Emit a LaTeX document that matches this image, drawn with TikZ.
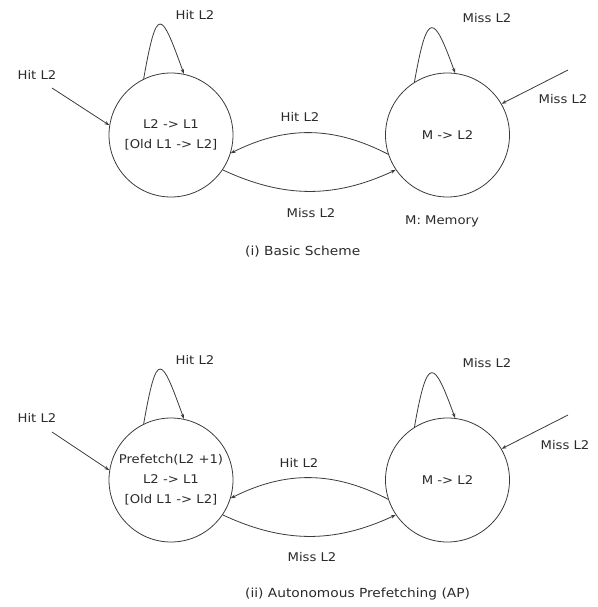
\documentclass[tikz,border=0pt]{standalone}
\usepackage{fontspec}
\setmainfont[FakeStretch=1.1]{DejaVu Sans}
\usepackage{tikz}
\usetikzlibrary{arrows.meta,positioning}
\definecolor{LineInk}{HTML}{3A3A3A}
\definecolor{TextInk}{HTML}{2A2A2A}

\begin{document}
\begin{tikzpicture}[
  x=1pt, y=1pt,
  state/.style={circle, draw=LineInk, line width=0.8pt, minimum size=124pt,
                inner sep=0pt, align=center, font=\fontsize{12}{20}\selectfont,
                text=TextInk},
  lbl/.style={font=\fontsize{12}{14}\selectfont, text=TextInk, inner sep=1pt},
  caption/.style={font=\fontsize{12.5}{14}\selectfont, text=TextInk,
                  anchor=west, inner sep=0pt},
  edge/.style={draw=LineInk, line width=0.8pt, -{Stealth[length=5pt,width=3.5pt]}},
]
\useasboundingbox (0,0) rectangle (597,-607);

% --- (i) Basic Scheme ---

% States
\node[state] (basicL1) at (171,-135) {L2 -> L1\\{[}Old L1 -> L2{]}};
\node[state] (basicMem) at (447.5,-135) {M -> L2};

% Incoming transitions
\coordinate (basicHitIn) at (52,-88);
\coordinate (basicMissIn) at (568,-70);
\draw[edge] (basicHitIn) -- (basicL1.171);
\draw[edge] (basicMissIn) -- (basicMem.30);

% Self loops
\draw[edge] (basicL1.116) .. controls +(80:78) and +(110:66) .. (basicL1.78);
\draw[edge] (basicMem.122) .. controls +(80:75) and +(110:62) .. (basicMem.83);

% Between states
\draw[edge] (basicMem.198) to[bend right=27] (basicL1.343);
\draw[edge] (basicL1.326) to[bend right=25] (basicMem.214);

% Labels
\node[lbl] (basicLoopHit) at (195,-15) {Hit L2};
\node[lbl] (basicInHit) at (37,-75) {Hit L2};
\node[lbl] (basicHit) at (300,-117) {Hit L2};
\node[lbl] (basicMiss) at (311,-213) {Miss L2};
\node[lbl] (basicLoopMiss) at (487,-18) {Miss L2};
\node[lbl] (basicInMiss) at (563,-99) {Miss L2};
\node[lbl] (basicMemNote) at (442,-221) {M: Memory};
\node[caption] (basicCap) at (245,-252) {(i) Basic Scheme};

% --- (ii) Autonomous Prefetching ---

% States
\node[state] (apL1) at (171,-480) {Prefetch(L2 +1)\\L2 -> L1\\{[}Old L1 -> L2{]}};
\node[state] (apMem) at (447.5,-480) {M -> L2};

% Incoming transitions
\coordinate (apHitIn) at (52,-432);
\coordinate (apMissIn) at (568,-415);
\draw[edge] (apHitIn) -- (apL1.171);
\draw[edge] (apMissIn) -- (apMem.30);

% Self loops
\draw[edge] (apL1.116) .. controls +(80:78) and +(110:66) .. (apL1.78);
\draw[edge] (apMem.122) .. controls +(80:75) and +(110:62) .. (apMem.83);

% Between states
\draw[edge] (apMem.198) to[bend right=27] (apL1.343);
\draw[edge] (apL1.326) to[bend right=25] (apMem.214);

% Labels
\node[lbl] (apLoopHit) at (195,-360) {Hit L2};
\node[lbl] (apInHit) at (37,-418) {Hit L2};
\node[lbl] (apHit) at (299,-463) {Hit L2};
\node[lbl] (apMiss) at (312,-557) {Miss L2};
\node[lbl] (apLoopMiss) at (487,-363) {Miss L2};
\node[lbl] (apInMiss) at (565,-445) {Miss L2};
\node[caption] (apCap) at (245,-594) {(ii) Autonomous Prefetching (AP)};

\end{tikzpicture}
\end{document}
